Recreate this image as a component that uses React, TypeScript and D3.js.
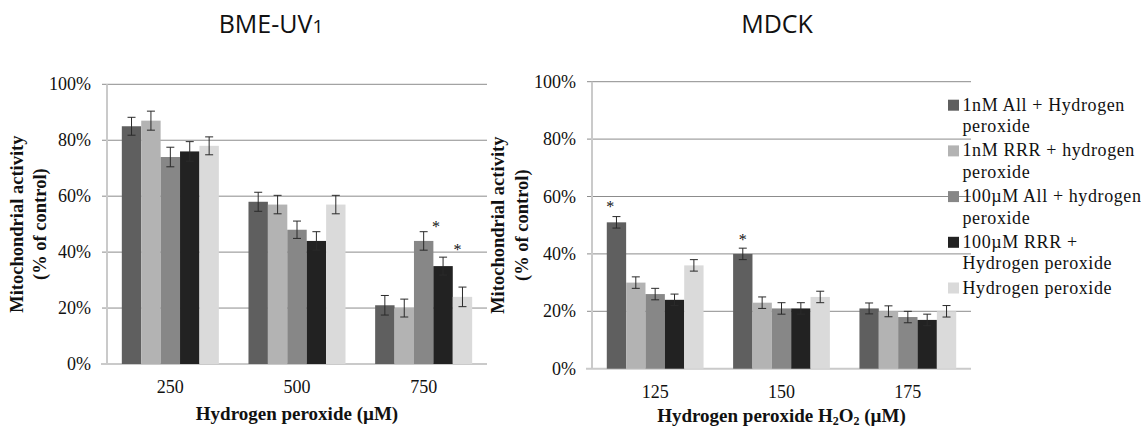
import React from "react";
import * as d3 from "d3";

// legend / series names
const seriesNames = [
    ["1nM All + Hydrogen", "peroxide"],
    ["1nM RRR + hydrogen", "peroxide"],
    ["100µM All + hydrogen", "peroxide"],
    ["100µM RRR +", "Hydrogen peroxide"],
    ["Hydrogen peroxide"],
];
const seriesColors = ["#5f5f5f", "#b3b3b3", "#878787", "#222222", "#dadada"];

const yTicks = [0, 20, 40, 60, 80, 100];

// BME-UV1 panel
const bmeDoses = ["250", "500", "750"];
const bmeValues = [
    [85, 58, 21],
    [87, 57, 20],
    [74, 48, 44],
    [76, 44, 35],
    [78, 57, 24],
];
const bmeErrors = [
    [3.2, 3.4, 3.5],
    [3.4, 3.3, 3.2],
    [3.5, 3.1, 3.3],
    [3.5, 3.3, 3.2],
    [3.2, 3.3, 3.5],
];
// significance marks: [group, series]
const bmeStars = [[2, 2], [2, 3]];

// MDCK panel
const mdckDoses = ["125", "150", "175"];
const mdckValues = [
    [51, 40, 21],
    [30, 23, 20],
    [26, 21, 18],
    [24, 21, 17],
    [36, 25, 20],
];
const mdckErrors = [
    [2, 2, 1.9],
    [2, 2, 1.9],
    [2, 2, 2],
    [2, 2, 2],
    [2, 2, 2],
];
const mdckStars = [[0, 0], [1, 0]];

const serif = { fontFamily: '"Liberation Serif", "Times New Roman", Times, serif' };
const sans = { fontFamily: '"Open Sans", "Noto Sans", sans-serif' };

const Panel = ({ frame, doses, values, errors, stars, starOffsets, title, xTitle }) => {
    const x = d3
        .scaleBand()
        .domain(doses)
        .range([frame.left, frame.right])
        .paddingInner(0.234)
        .paddingOuter(0.117);

    const xs = d3
        .scaleBand()
        .domain(d3.range(values.length).map(String))
        .range([0, x.bandwidth()])
        .padding(0);

    const y = d3.scaleLinear().domain([0, 100]).range([frame.bottom, frame.top]);
    const yMid = (frame.top + frame.bottom) / 2;

    return (
        <g>
            <text x={frame.titleX} y={33} textAnchor="middle" style={sans} fontSize={25} fill="#111">
                {title}
            </text>

            {/* gridlines */}
            {yTicks.filter(t => t > 0).map(t => (
                <line key={'g' + t} x1={frame.left - 5} x2={frame.right} y1={y(t)} y2={y(t)} stroke="#8c8c8c" strokeWidth={1} />
            ))}
            {/* axes */}
            <line x1={frame.left} x2={frame.left} y1={frame.top} y2={frame.bottom} stroke="#cacaca" strokeWidth={2} />
            <line x1={frame.left - 6} x2={frame.right} y1={frame.bottom} y2={frame.bottom} stroke="#cacaca" strokeWidth={2} />

            {yTicks.map(t => (
                <text key={'yt' + t} x={frame.left - 16} y={y(t) + 6} textAnchor="end" style={serif} fontSize={18} fill="#111">
                    {t + '%'}
                </text>
            ))}

            {doses.map(d => (
                <text key={'xt' + d} x={x(d) + x.bandwidth() / 2} y={frame.bottom + 29} textAnchor="middle" style={serif} fontSize={18} fill="#111">
                    {d}
                </text>
            ))}

            {/* bars */}
            {values.map((series, s) =>
                series.map((v, i) => (
                    <rect
                        key={'b' + s + '-' + i}
                        x={x(doses[i]) + xs(String(s))}
                        y={y(v)}
                        width={xs.bandwidth()}
                        height={frame.bottom - y(v)}
                        fill={seriesColors[s]}
                    />
                ))
            )}

            {/* error bars */}
            {values.map((series, s) =>
                series.map((v, i) => {
                    const cx = x(doses[i]) + xs(String(s)) + xs.bandwidth() / 2;
                    const e = errors[s][i];
                    return (
                        <g key={'e' + s + '-' + i} stroke="#2a2a2a" strokeWidth={1}>
                            <line x1={cx} x2={cx} y1={y(v + e)} y2={y(v - e)} />
                            <line x1={cx - 4} x2={cx + 4} y1={y(v + e)} y2={y(v + e)} />
                            <line x1={cx - 4} x2={cx + 4} y1={y(v - e)} y2={y(v - e)} />
                        </g>
                    );
                })
            )}

            {stars.map(([g, s], k) => {
                const cx = x(doses[g]) + xs(String(s)) + xs.bandwidth() / 2;
                const top = y(values[s][g] + errors[s][g]);
                return (
                    <text key={'st' + k} x={cx + starOffsets[k][0] * xs.bandwidth()} y={top - starOffsets[k][1]} textAnchor="middle" style={serif} fontSize={16} fill="#111">
                        *
                    </text>
                );
            })}

            {/* y title */}
            <text
                transform={`translate(${frame.yTitleX}, ${yMid}) rotate(-90)`}
                textAnchor="middle"
                style={serif}
                fontWeight="bold"
                fontSize={18.5}
                fill="#111"
            >
                <tspan x={0} y={0}>Mitochondrial activity</tspan>
                <tspan x={0} y={23.5}>(% of control)</tspan>
            </text>

            <text x={(frame.left + frame.right) / 2} y={frame.xTitleY} textAnchor="middle" style={serif} fontWeight="bold" fontSize={19} fill="#111">
                {xTitle}
            </text>
        </g>
    );
};

const Legend = ({ x, y }) => {
    return (
        <g>
            {seriesNames.map((lines, i) => (
                <g key={'lg' + i} transform={`translate(${x}, ${y + i * 45.7})`}>
                    <rect x={0} y={-11} width={11} height={11} fill={seriesColors[i]} />
                    <text style={serif} fontSize={18} letterSpacing={0.6} fill="#111">
                        {lines.map((l, j) => (
                            <tspan key={j} x={14.5} y={j * 21.5}>{l}</tspan>
                        ))}
                    </text>
                </g>
            ))}
        </g>
    );
};

export default function App() {
    const bmeFrame = { left: 107, right: 487, top: 84.3, bottom: 364, titleX: 271, yTitleX: 22.5, xTitleY: 419.5 };
    const mdckFrame = { left: 592, right: 971, top: 81.7, bottom: 368.7, titleX: 777, yTitleX: 504, xTitleY: 422 };

    return (
        <svg width={1141} height={428} style={{ position: "absolute", left: 0, top: 0, background: "#fff" }}>
            <rect width={1141} height={428} fill="#fff" />
            <Panel
                frame={bmeFrame}
                doses={bmeDoses}
                values={bmeValues}
                errors={bmeErrors}
                stars={bmeStars}
                starOffsets={[[0.64, 0], [0.74, 2]]}
                title={<>BME-UV<tspan fontSize={19}>1</tspan></>}
                xTitle="Hydrogen peroxide (µM)"
            />
            <Panel
                frame={mdckFrame}
                doses={mdckDoses}
                values={mdckValues}
                errors={mdckErrors}
                stars={mdckStars}
                starOffsets={[[-0.32, 5], [0, 3.5]]}
                title="MDCK"
                xTitle={<>Hydrogen peroxide H<tspan fontSize={12} dy={3}>2</tspan><tspan dy={-3}>O</tspan><tspan fontSize={12} dy={3}>2</tspan><tspan dy={-3}> (µM)</tspan></>}
            />
            <Legend x={948} y={110.7} />
        </svg>
    );
}
